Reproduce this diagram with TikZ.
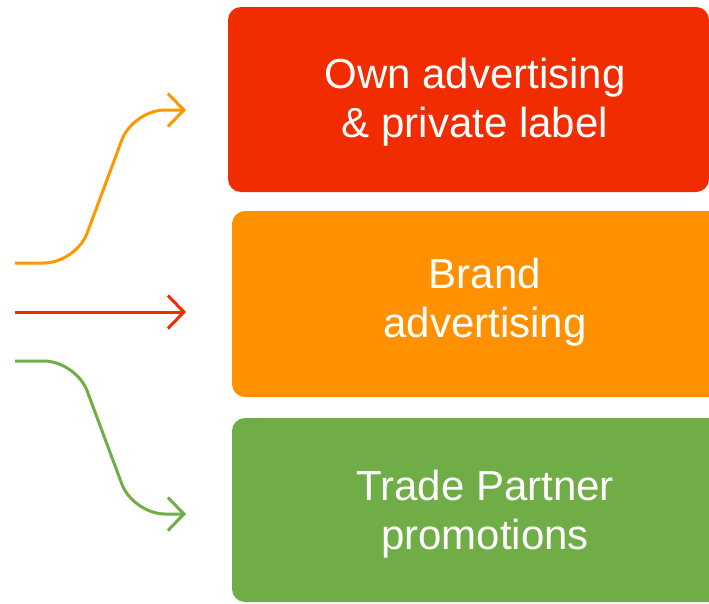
\documentclass[tikz,border=0pt]{standalone}
\usepackage{fontspec}
\setmainfont{Liberation Sans}
\usetikzlibrary{arrows.meta}

\definecolor{boxred}{RGB}{240,44,0}
\definecolor{boxorange}{RGB}{255,145,0}
\definecolor{boxgreen}{RGB}{112,173,71}
\definecolor{arrorange}{RGB}{255,152,0}

\tikzset{
  panel/.style={rounded corners=13pt, inner sep=0pt, draw=none},
  paneltext/.style={text=white, align=center, inner sep=0pt,
    font=\fontsize{42}{49}\selectfont},
  flow/.style={line width=3pt, rounded corners=32pt,
    -{Straight Barb[length=16pt,width=33pt,line width=3pt]}},
}

\begin{document}
\begin{tikzpicture}[x=1pt,y=-1pt]
  \useasboundingbox (0,0) rectangle (709,603);
  \clip (0,0) rectangle (709,603);

  % coloured panels
  \node[panel, fill=boxred, minimum width=481pt, minimum height=185pt] (own) at (468.5,99.5) {};
  \node[panel, fill=boxorange, minimum width=508pt, minimum height=186pt] (brand) at (486,304) {};
  \node[panel, fill=boxgreen, minimum width=508pt, minimum height=184pt] (trade) at (486,510) {};

  % panel captions
  \node[paneltext] (owntxt) at (475,102) {Own advertising\\\& private label};
  \node[paneltext] (brandtxt) at (485,302) {Brand\\advertising};
  \node[paneltext] (tradetxt) at (485,514) {Trade Partner\\promotions};

  % arrow start and end points
  \coordinate (s1) at (15,263);
  \coordinate (e1) at (186,110);
  \coordinate (s2) at (15,312);
  \coordinate (e2) at (186,312);
  \coordinate (s3) at (15,361);
  \coordinate (e3) at (186,514);

  % flows into the panels
  \draw[flow, draw=arrorange] (s1) -- (76,263) -- (133,110) -- (e1);
  \draw[flow, draw=boxred] (s2) -- (e2);
  \draw[flow, draw=boxgreen] (s3) -- (76,361) -- (133,514) -- (e3);
\end{tikzpicture}
\end{document}
